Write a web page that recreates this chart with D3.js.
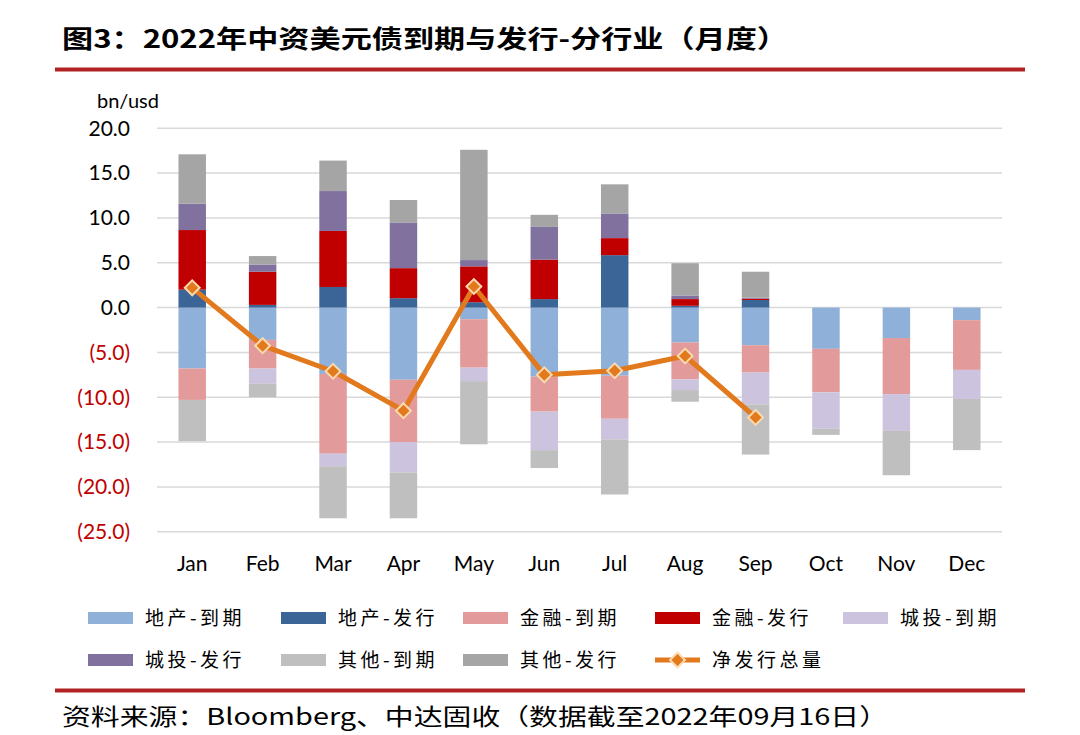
<!DOCTYPE html>
<html>
<head>
<meta charset="utf-8">
<script src="https://cdn.jsdelivr.net/npm/d3@7"></script>
<style>
  body { margin: 0; background: #fff; }
  text { font-family: Lato, "Noto Sans", sans-serif; }
  .cjk { font-family: "Noto Sans CJK SC", sans-serif; }
</style>
</head>
<body>
<script>
// months and series (bn usd), maturities negative
var months = ["Jan","Feb","Mar","Apr","May","Jun","Jul","Aug","Sep","Oct","Nov","Dec"];
var propMature  = [-6.8,-3.6,-7.4,-8.05,-1.3,-7.7,-7.6,-3.9,-4.2,-4.6,-3.4,-1.4];
var propIssue   = [2.0,0.3,2.3,1.05,0.6,0.95,5.85,0.2,0.85,0,0,0];
var finMature   = [-3.5,-3.2,-8.9,-6.95,-5.4,-3.9,-4.8,-4.1,-3.05,-4.85,-6.25,-5.55];
var finIssue    = [6.65,3.7,6.25,3.35,4.0,4.4,1.9,0.75,0.15,0,0,0];
var lgfvMature  = [0,-1.7,-1.4,-3.4,-1.5,-4.3,-2.3,-1.2,-3.55,-4.05,-4.1,-3.25];
var lgfvIssue   = [2.95,0.8,4.45,5.1,0.7,3.65,2.75,0.4,0.1,0,0,0];
var otherMature = [-4.6,-1.5,-5.8,-5.1,-7.05,-2.0,-6.15,-1.3,-5.6,-0.7,-4.95,-5.7];
var otherIssue  = [5.5,0.95,3.4,2.5,12.3,1.35,3.25,3.6,2.9,0,0,0];
var netIssue    = [2.2,-4.25,-7.1,-11.5,2.35,-7.5,-7.05,-5.4,-12.25];
var yTicks = [20,15,10,5,0,-5,-10,-15,-20,-25];

var series = [
  {key:"地产-到期", vals:propMature,  color:"#8FB0D9"},
  {key:"地产-发行", vals:propIssue,   color:"#3B6597"},
  {key:"金融-到期", vals:finMature,   color:"#E29A9A"},
  {key:"金融-发行", vals:finIssue,    color:"#C00000"},
  {key:"城投-到期", vals:lgfvMature,  color:"#CCC3DE"},
  {key:"城投-发行", vals:lgfvIssue,   color:"#80719E"},
  {key:"其他-到期", vals:otherMature, color:"#BFBFBF"},
  {key:"其他-发行", vals:otherIssue,  color:"#A5A5A5"}
];

var table = months.map(function(m, i) {
  var row = {month: m};
  series.forEach(function(s) { row[s.key] = s.vals[i]; });
  return row;
});

var W = 1080, H = 735;
var svg = d3.select("body").append("svg")
    .attr("width", W).attr("height", H)
    .style("background", "#fff");

var x = d3.scaleBand().domain(months).range([157, 1002])
    .paddingInner(0.61).paddingOuter(0.305);
var y = d3.scaleLinear().domain([-25, 20]).range([531.7, 128.3]);

// title + rules
svg.append("text").attr("class", "cjk")
    .attr("x", 62).attr("y", 48)
    .attr("font-size", 25).attr("font-weight", "bold")
    .attr("textLength", 726).attr("lengthAdjust", "spacingAndGlyphs")
    .text("图3：2022年中资美元债到期与发行-分行业（月度）");
svg.append("rect").attr("x", 55).attr("y", 67.5).attr("width", 970).attr("height", 4).attr("fill", "#B22224");
svg.append("rect").attr("x", 55).attr("y", 688.5).attr("width", 970).attr("height", 4).attr("fill", "#B22224");
svg.append("text").attr("class", "cjk")
    .attr("x", 62).attr("y", 725)
    .attr("font-size", 23)
    .attr("textLength", 826).attr("lengthAdjust", "spacingAndGlyphs")
    .text("资料来源：Bloomberg、中达固收（数据截至2022年09月16日）");

// gridlines
svg.append("g").selectAll("line").data(yTicks).enter().append("line")
    .attr("x1", 157).attr("x2", 1002)
    .attr("y1", function(d) { return y(d); }).attr("y2", function(d) { return y(d); })
    .attr("stroke", "#D9D9D9").attr("stroke-width", 1.5);

// y tick labels
svg.append("g").selectAll("text").data(yTicks).enter().append("text")
    .attr("x", 130).attr("y", function(d) { return y(d); })
    .attr("dy", "0.35em").attr("text-anchor", "end")
    .attr("font-size", 21)
    .attr("fill", function(d) { return d < 0 ? "#C00000" : "#000"; })
    .text(function(d) { return d < 0 ? "(" + (-d).toFixed(1) + ")" : d.toFixed(1); });
svg.append("text").attr("x", 97).attr("y", 108).attr("font-size", 20).text("bn/usd");

// x labels
svg.append("g").selectAll("text").data(months).enter().append("text")
    .attr("x", function(d) { return x(d) + x.bandwidth() / 2; })
    .attr("y", 571).attr("text-anchor", "middle")
    .attr("font-size", 21)
    .text(function(d) { return d; });

// stacked bars
var stack = d3.stack().keys(series.map(function(s) { return s.key; }))
    .offset(d3.stackOffsetDiverging);
var layers = stack(table);

svg.append("g").selectAll("g").data(layers).enter().append("g")
    .attr("fill", function(d, i) { return series[i].color; })
  .selectAll("rect").data(function(d) { return d; }).enter().append("rect")
    .attr("x", function(d) { return x(d.data.month); })
    .attr("width", x.bandwidth())
    .attr("y", function(d) { return y(Math.max(d[0], d[1])); })
    .attr("height", function(d) { return Math.abs(y(d[0]) - y(d[1])); });

// net issuance line
var netPts = netIssue.map(function(v, i) { return {m: months[i], v: v}; });
var line = d3.line()
    .x(function(d) { return x(d.m) + x.bandwidth() / 2; })
    .y(function(d) { return y(d.v); });
svg.append("path").datum(netPts)
    .attr("d", line).attr("fill", "none")
    .attr("stroke", "#E2791C").attr("stroke-width", 5).attr("stroke-linejoin", "round");
// square turned 45deg = even diamond like excel
var diamond = d3.symbol().type(d3.symbolSquare).size(110);
svg.append("g").selectAll("path").data(netPts).enter().append("path")
    .attr("d", diamond)
    .attr("transform", function(d) { return "translate(" + (x(d.m) + x.bandwidth() / 2) + "," + y(d.v) + ") rotate(45)"; })
    .attr("fill", "#E2791C").attr("stroke", "#FBD9AE").attr("stroke-width", 2);

// legend
var legendItems = series.map(function(s) { return {key: s.key, color: s.color, type: "bar"}; });
legendItems.push({key: "净发行总量", color: "#E2791C", type: "line"});
var legX = [88, 281, 463, 655, 843];
var lg = svg.append("g").selectAll("g").data(legendItems).enter().append("g")
    .attr("transform", function(d, i) {
      return "translate(" + legX[i % 5] + "," + (i < 5 ? 618 : 660) + ")";
    });
lg.filter(function(d) { return d.type === "bar"; }).append("rect")
    .attr("x", 0).attr("y", -6).attr("width", 45).attr("height", 12)
    .attr("fill", function(d) { return d.color; });
var ll = lg.filter(function(d) { return d.type === "line"; });
ll.append("line").attr("x1", 0).attr("x2", 45).attr("y1", 0).attr("y2", 0)
    .attr("stroke", "#E2791C").attr("stroke-width", 5);
ll.append("path").attr("d", diamond).attr("transform", "translate(22.5,0) rotate(45)")
    .attr("fill", "#E2791C").attr("stroke", "#FBD9AE").attr("stroke-width", 2);
lg.append("text").attr("class", "cjk")
    .attr("x", 57).attr("y", 0).attr("dy", "0.35em")
    .attr("font-size", 19).attr("letter-spacing", 3.5)
    .text(function(d) { return d.key; });
</script>
</body>
</html>
